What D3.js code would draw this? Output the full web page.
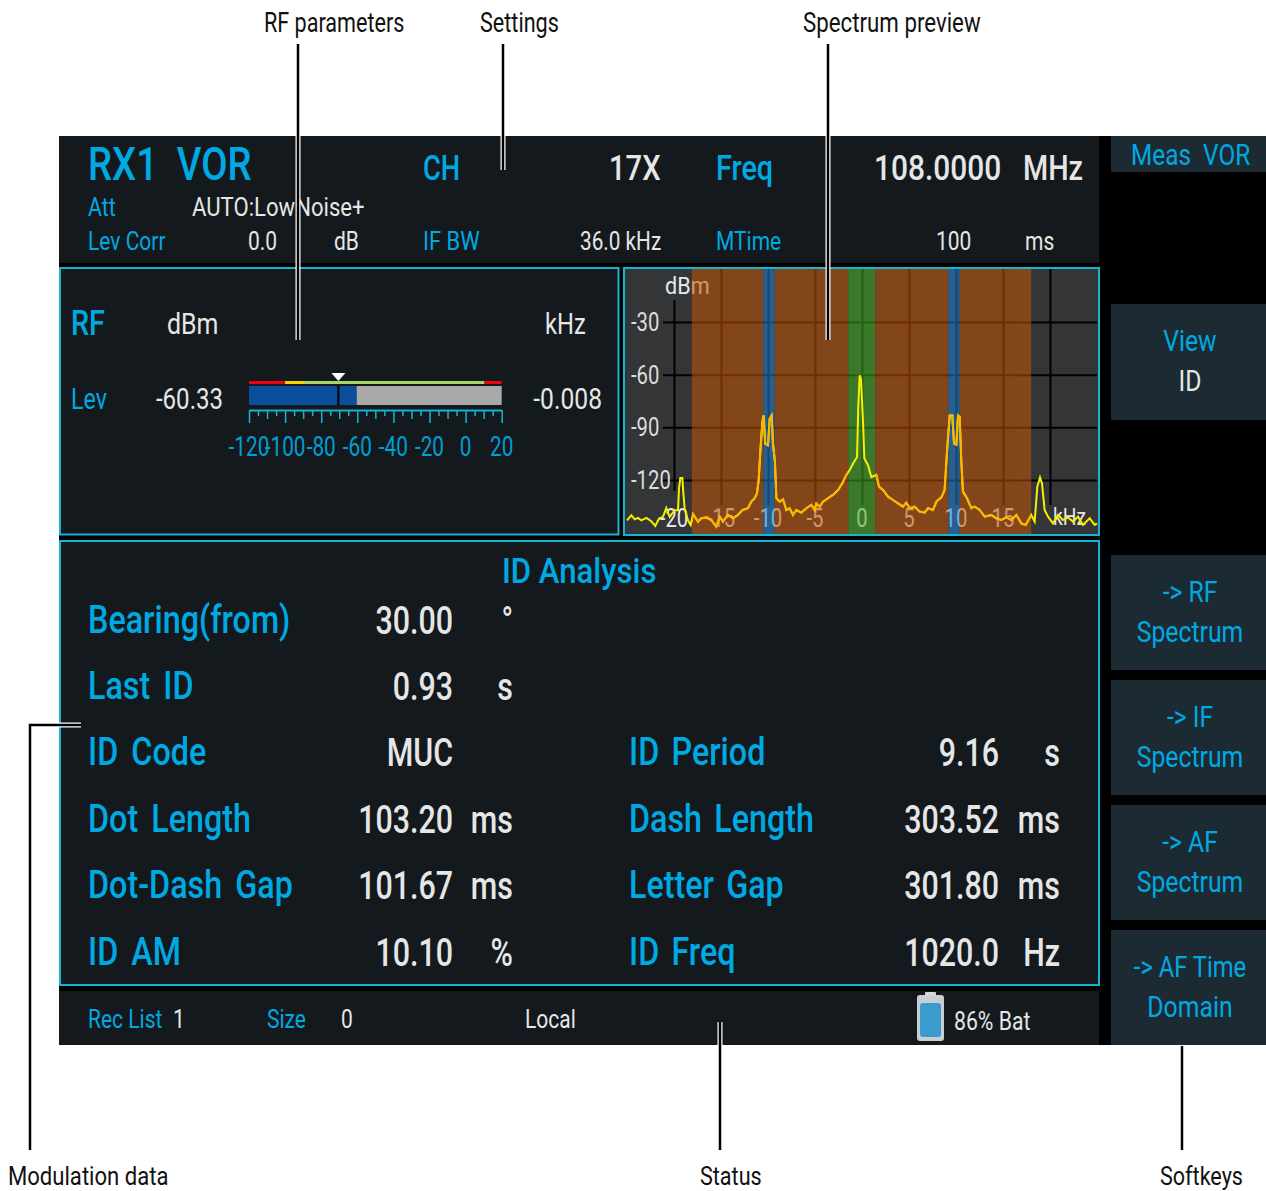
<!DOCTYPE html>
<html>
<head>
<meta charset="utf-8">
<script src="https://cdn.jsdelivr.net/npm/d3@7"></script>
<style>
html, body { margin: 0; background: #fff; }
svg { display: block; }
text { font-family: Roboto, sans-serif; }
</style>
</head>
<body>
<div class="canva"></div>
<script>
// --- values ---
const traceKhz = [-25,-24.54,-24.18,-23.83,-23.48,-22.94,-22.41,-21.99,-21.6,-21.17,-20.82,-20.46,-19.93,-19.57,-19.47,-19.33,-19.11,-19.04,-18.87,-18.51,-18.23,-17.98,-17.45,-17.09,-16.49,-16.03,-15.5,-15.14,-14.79,-14.26,-13.72,-13.19,-12.73,-12.13,-11.77,-11.42,-11.17,-10.99,-10.82,-10.6,-10.46,-10.3,-10,-9.82,-9.61,-9.47,-9.26,-9.11,-8.76,-8.4,-8.05,-7.7,-7.34,-6.99,-6.45,-5.92,-5.39,-5.04,-4.86,-4.5,-4.15,-3.62,-3.09,-2.55,-2.09,-1.67,-1.31,-0.96,-0.53,-0.39,-0.25,-0.11,0.11,0.25,0.64,0.99,1.52,1.81,2.23,2.77,3.3,3.83,4.36,4.72,5.07,5.6,6.13,6.67,7.02,7.55,7.91,8.44,8.79,9.04,9.33,9.61,9.79,10.04,10.21,10.39,10.57,10.74,11.17,11.63,11.99,12.52,13.05,13.76,14.29,14.82,15.35,15.89,16.42,16.95,17.41,18.01,18.37,18.65,18.94,19.15,19.43,19.79,20.32,20.85,21.38,21.91,22.45,22.98,23.51,24.22,24.75,25];
const traceDbm = [-143,-140.1,-142.4,-141.6,-143,-141.6,-143.5,-146.2,-142,-141,-135.9,-141,-137.3,-137.3,-124.9,-118.9,-118.9,-124.9,-136.3,-143,-145.6,-139.4,-143.7,-141.8,-141.3,-142.8,-146.6,-140.9,-143.7,-139.9,-141.8,-139.9,-137.1,-136.1,-132.3,-130.4,-127.6,-120,-104,-87,-83.2,-99.3,-100.2,-85,-83.2,-99.3,-109.7,-130.4,-132.3,-131,-137.1,-136.1,-139.9,-137.1,-138.6,-136.1,-134.2,-137.1,-133.3,-135.2,-132.3,-130.4,-128.5,-125.7,-121.9,-117.1,-114.3,-110.7,-106.9,-77.5,-60.4,-62.3,-87,-107.8,-111.6,-118.3,-117.1,-123.8,-125.7,-129.5,-131.4,-133.3,-135.2,-132.9,-136.1,-135.2,-138,-138.6,-136.1,-137.1,-132.3,-129.9,-125.7,-104,-83.2,-83.2,-99.3,-99.9,-83.2,-84.1,-109.7,-126.6,-130.4,-136.1,-135.2,-137.1,-140.9,-139.9,-141.8,-142.8,-141.3,-142.8,-139.9,-144.7,-145.6,-139.9,-143.7,-123.8,-118.5,-121.9,-137.1,-140.9,-144.7,-139.9,-142.8,-141.3,-143.7,-140.9,-145.6,-141.8,-145.6,-144.7];
const spectrumDbTicks = [-30,-60,-90,-120];
const spectrumKhzTicks = [-20,-15,-10,-5,0,5,10,15,20];
const spectrumKhzLabels = [-20,-15,-10,-5,0,5,10,15];
const orangeBand = [-18.1,18];
const greenBand = [-1.45,1.4];
const blueBands = [[-10.5,-9.3],[9.2,10.4]];

const meterTicks = d3.range(-120,21,5);
const meterLabels = [-120,-100,-80,-60,-40,-20,0,20];
const rfLevel = -60.33;
const rfOffset = "-0.008";
const meterMarker = -70.5;
const meterStrip = [[-120,-100,"#f00010"],[-100,-89,"#f4d800"],[-89,10.5,"#a8d468"],[10.5,20,"#f00010"]];

const idLeftNames = ["Bearing(from)","Last ID","ID Code","Dot Length","Dot-Dash Gap","ID AM"];
const idLeftValues = ["30.00","0.93","MUC","103.20","101.67","10.10"];
const idLeftUnits = ["°","s","","ms","ms","%"];
const idRightNames = ["","","ID Period","Dash Length","Letter Gap","ID Freq"];
const idRightValues = ["","","9.16","303.52","301.80","1020.0"];
const idRightUnits = ["","","s","ms","ms","Hz"];

const softkeys = [["View","ID"],["-> RF","Spectrum"],["-> IF","Spectrum"],["-> AF","Spectrum"],["-> AF Time","Domain"]];

const blue = "#00a9e2", white = "#e6e6e6", panel = "#14191d", cyan = "#17b4d2";

const svg = d3.select(".canva").append("svg").attr("width",1266).attr("height",1191);

function box(x0,y0,x1,y1,fill,parent) {
	return (parent||svg).append("rect").attr("x",x0).attr("y",y0).attr("width",x1-x0).attr("height",y1-y0).attr("fill",fill);
}
// text squeezed horizontally, there is no condensed face installed
function label(str,x,y,size,color,opts) {
	opts = opts || {};
	return (opts.parent||svg).append("text")
		.attr("transform","translate("+x+","+y+") scale("+(opts.sx||0.84)+",1)")
		.attr("text-anchor",opts.anchor||"start")
		.attr("font-size",size)
		.attr("font-weight",opts.weight||400)
		.attr("fill",color)
		.style("white-space","pre")
		.style("word-spacing",(opts.gap||0)+"px")
		.text(str);
}

// screen
box(59,136,1266,1045,"#000");
box(59,136,1099,263,panel);
box(60,268,618.5,534.5,panel).attr("stroke",cyan).attr("stroke-width",2);
box(624,268,1099,535,"#333537").attr("stroke",cyan).attr("stroke-width",2);
box(60,541,1099,985,panel).attr("stroke",cyan).attr("stroke-width",2);
box(59,991,1099,1045,panel);

// softkeys
const softY = [[304,420],[555,670],[680,795],[805,920],[930,1045]];
box(1111,136,1266,172,"#1c2b33");
label("Meas  VOR",1131,165,29,blue,{sx:0.84});
softkeys.forEach((k,i) => {
	box(1111,softY[i][0],1266,softY[i][1],"#1c2b33");
	const two = i==0;
	label(k[0],1190,softY[i][0]+47,29,blue,{anchor:"middle",sx:i==4?0.82:0.85});
	label(k[1],1190,softY[i][0]+87,29,two?white:blue,{anchor:"middle",sx:0.855});
});

// settings header
label("RX1  VOR",88,180,46,blue,{weight:500,sx:0.83});
label("CH",423,180,36,blue,{weight:500,sx:0.76});
label("17X",609,180,36,white,{weight:500,sx:0.81});
label("Freq",716,180,36,blue,{weight:500,sx:0.8});
label("108.0000",874,180,36,white,{weight:500,sx:0.83});
label("MHz",1023,180,36,white,{weight:500,sx:0.8});
label("Att",88,216,25,blue,{sx:0.86});
label("AUTO:LowNoise+",192,216,25,white,{sx:0.885});
label("Lev Corr",88,250,25,blue,{sx:0.84});
label("0.0",248,250,25,white);
label("dB",334,250,25,white);
label("IF BW",423,250,25,blue,{sx:0.88});
label("36.0 kHz",580,250,25,white,{sx:0.83});
label("MTime",716,250,25,blue,{sx:0.84});
label("100",936,250,25,white);
label("ms",1025,250,25,white);

// RF panel
label("RF",71,335,36,blue,{weight:500,sx:0.8});
label("dBm",167,334,29,white,{sx:0.86});
label("kHz",545,334,29,white,{sx:0.82});
label("Lev",71,409,29,blue,{sx:0.8});
label(rfLevel.toFixed(2),223,409,29,white,{anchor:"end",sx:0.83});
label(rfOffset,602,409,29,white,{anchor:"end",sx:0.85});

const meterX = d3.scaleLinear().domain([-120,20]).range([249,501.7]);
meterStrip.forEach(s => box(meterX(s[0]),381,meterX(s[1]),384,s[2]));
box(meterX(-120),386,meterX(rfLevel),405,"#0a4f9c");
box(meterX(rfLevel),386,meterX(20),405,"#a9a9a9");
box(meterX(meterMarker)-1,386,meterX(meterMarker)+1,405,"#000");
svg.append("path")
	.attr("d",d3.line()([[meterX(meterMarker)-7,373],[meterX(meterMarker)+7,373],[meterX(meterMarker),381]]))
	.attr("fill","#fff");

const meterAxis = svg.append("g").attr("transform","translate(0,410)")
	.call(d3.axisBottom(meterX).tickValues(meterTicks).tickSizeOuter(0).tickFormat(""));
meterAxis.select(".domain").attr("stroke",cyan).attr("stroke-width",2);
meterAxis.selectAll(".tick line").attr("stroke",cyan).attr("stroke-width",1.5)
	.attr("y2",d => d%20==0 ? 13 : d%10==0 ? 9 : 6);
meterLabels.forEach(v => label(String(v),meterX(v),456,27,"#009fd4",{anchor:"middle",sx:0.77}));

// spectrum preview
const specX = d3.scaleLinear().domain([-20,20]).range([674,1050]);
const specY = d3.scaleLinear().domain([-30,-120]).range([322,480]);
const spec = svg.append("g");

const gridV = spec.append("g").attr("transform","translate(0,269)")
	.call(d3.axisBottom(specX).tickValues(spectrumKhzTicks).tickSize(236).tickFormat(""));
gridV.select(".domain").remove();
gridV.selectAll(".tick line").attr("stroke","#000").attr("stroke-width",2)
	.attr("y1",d => d==-20 ? 31 : 0).attr("y2",d => d==-20 ? 222 : 236);
const gridH = spec.append("g").attr("transform","translate(1097,0)")
	.call(d3.axisLeft(specY).tickValues(spectrumDbTicks).tickSize(434).tickFormat(""));
gridH.select(".domain").remove();
gridH.selectAll(".tick line").attr("stroke","#000").attr("stroke-width",2);

label("dBm",665,294,24,"#e8e8e8",{parent:spec,sx:0.9});
spectrumDbTicks.forEach(v => label(String(v),631,specY(v)+9,26,"#dcdcdc",{parent:spec,sx:0.78}));
spectrumKhzLabels.forEach(v => {
	label(String(v),specX(v),527,26,"#e6e6e6",{parent:spec,anchor:"middle",sx:0.78});
});
label("kHz",1053,525,24,"#e6e6e6",{parent:spec,sx:0.8});

// coloured channels lie over grid and labels
const overlay = spec.append("g").attr("opacity",0.55);
const orangeEdges = [orangeBand[0],blueBands[0][0],blueBands[0][1],greenBand[0],greenBand[1],blueBands[1][0],blueBands[1][1],orangeBand[1]];
d3.pairs(orangeEdges).forEach((p,i) => {
	const fill = i%2==0 ? "#c65405" : i==3 ? "#43b01f" : "#1f83d5";
	box(specX(p[0]),269,specX(p[1]),534,fill,overlay);
});

const tracePts = traceKhz.map((k,i) => [specX(k),specY(traceDbm[i])]);
const traceLine = d3.line();
const clip = svg.append("defs").append("clipPath").attr("id","orangeClip");
[[orangeBand[0],greenBand[0]],[greenBand[1],orangeBand[1]]].forEach(p => {
	box(specX(p[0]),269,specX(p[1]),534,"#000",clip);
});
svg.append("path").attr("d",traceLine(tracePts)).attr("fill","none").attr("stroke","#f6f000").attr("stroke-width",2);
svg.append("path").attr("d",traceLine(tracePts)).attr("fill","none").attr("stroke","#ffb400").attr("stroke-width",2)
	.attr("clip-path","url(#orangeClip)");

// ID analysis table
const rowY = d3.scaleLinear().domain([0,5]).range([632.5,964.5]);
label("ID Analysis",502,583,36,blue,{weight:500,sx:0.865});
idLeftNames.forEach((n,i) => {
	const y = rowY(i);
	label(n,88,y,38,blue,{weight:500,sx:0.85,gap:6});
	label(idLeftValues[i],453,y+1,38,white,{weight:500,anchor:"end",sx:0.8});
	label(idLeftUnits[i],513,y+1,38,white,{weight:500,anchor:"end",sx:0.8});
	if (idRightNames[i]) {
		label(idRightNames[i],629,y,38,blue,{weight:500,sx:0.85,gap:5});
		label(idRightValues[i],999,y+1,38,white,{weight:500,anchor:"end",sx:0.8});
		label(idRightUnits[i],1060,y+1,38,white,{weight:500,anchor:"end",sx:0.8});
	}
});

// status line
label("Rec List",88,1028,25,blue);
label("1",173,1028,25,white);
label("Size",267,1028,25,blue);
label("0",341,1028,25,white);
label("Local",525,1028,25,white);
label("86% Bat",954,1030,25,white,{sx:0.85});
box(917,995,944,1041,"#c8ced2").attr("rx",3);
box(925,992,936,996,"#d8d8d8").attr("rx",1);
box(920,1003,941,1037,"#3a9bcc").attr("rx",3);

// callouts
function callout(pts) {
	const line = d3.line()(pts);
	svg.append("path").attr("d",line).attr("fill","none").attr("stroke","#fff").attr("stroke-width",5);
	svg.append("path").attr("d",line).attr("fill","none").attr("stroke","#000").attr("stroke-width",2.5);
}
callout([[298,44],[298,340]]);
callout([[503,44],[503,170]]);
callout([[828,44],[828,340]]);
callout([[30,1150],[30,725],[81,725]]);
callout([[720,1022],[720,1150]]);
callout([[1182,1046],[1182,1150]]);

label("RF parameters",264,32,27,"#111",{sx:0.8});
label("Settings",480,32,27,"#111",{sx:0.8});
label("Spectrum preview",803,32,27,"#111",{sx:0.825});
label("Modulation data",8,1185,26,"#111",{sx:0.85});
label("Status",700,1185,26,"#111",{sx:0.83});
label("Softkeys",1160,1185,26,"#111",{sx:0.83});
</script>
</body>
</html>
